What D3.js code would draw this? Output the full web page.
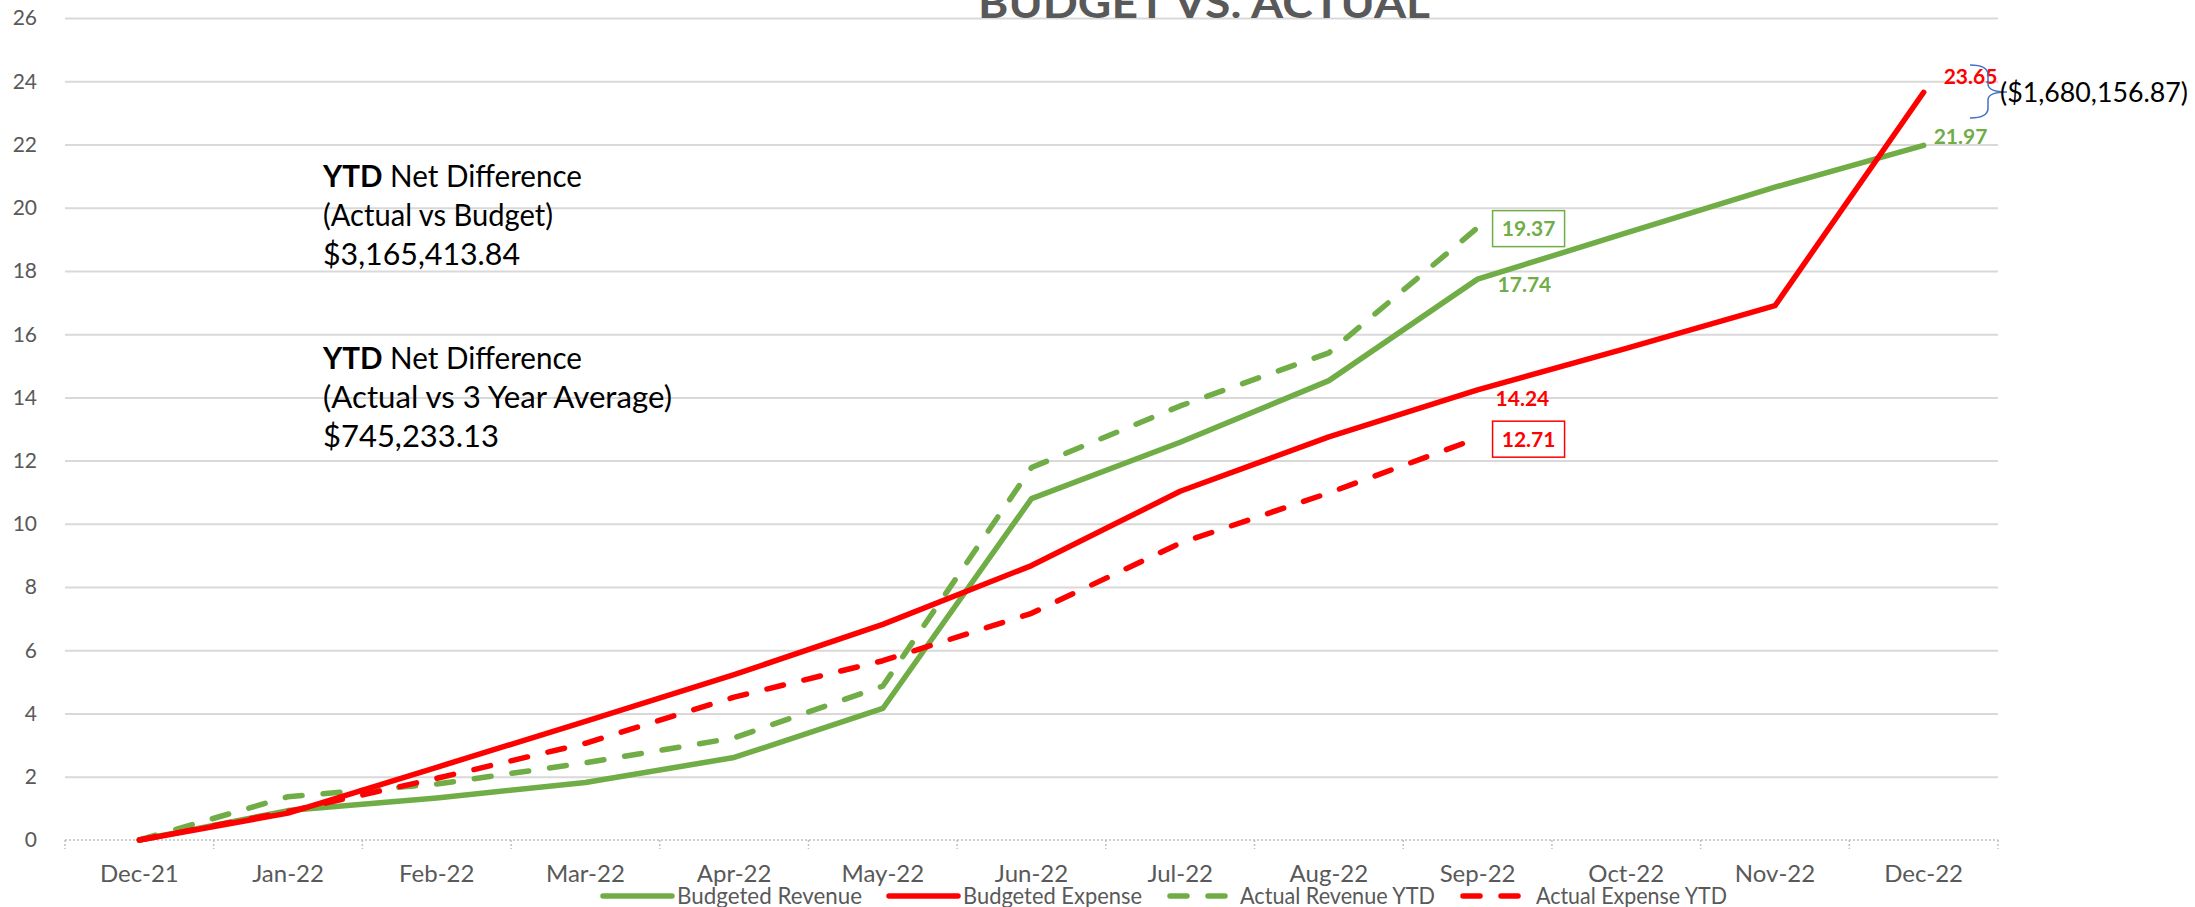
<!DOCTYPE html>
<html>
<head>
<meta charset="utf-8">
<script src="https://cdn.jsdelivr.net/npm/d3@7"></script>
<style>
  body { margin: 0; background: #fff; }
  text { font-family: Lato, "Open Sans", sans-serif; }
</style>
</head>
<body>
<svg id="chart" width="2195" height="907"></svg>
<script>
var months = ["Dec-21","Jan-22","Feb-22","Mar-22","Apr-22","May-22","Jun-22","Jul-22","Aug-22","Sep-22","Oct-22","Nov-22","Dec-22"];
var budgetedRevenue = [0, 0.93, 1.33, 1.82, 2.61, 4.16, 10.8, 12.58, 14.53, 17.74, 19.2, 20.65, 21.97];
var budgetedExpense = [0, 0.85, 2.3, 3.75, 5.23, 6.82, 8.68, 11.03, 12.75, 14.24, 15.55, 16.9, 23.65];
var actualRevenue = [0, 1.37, 1.77, 2.44, 3.23, 4.87, 11.78, 13.73, 15.41, 19.37];
var actualExpense = [0, 0.9, 1.95, 3.06, 4.52, 5.67, 7.17, 9.39, 10.98, 12.71];
var yTicks = [0, 2, 4, 6, 8, 10, 12, 14, 16, 18, 20, 22, 24, 26];

var green = "#70AD47", red = "#FF0000", grey = "#595959";
var svg = d3.select("#chart");

var x = d3.scaleBand().domain(months).range([65, 1998]);
var y = d3.scaleLinear().domain([0, 26]).range([840, 18]);
function cx(i) { return x(months[i]) + x.bandwidth() / 2; }

// gridlines
var grid = svg.append("g").attr("transform", "translate(65,0)")
    .call(d3.axisLeft(y).tickValues(yTicks.slice(1)).tickSize(-(1998 - 65)).tickFormat(""));
grid.select(".domain").remove();
grid.selectAll("line").attr("stroke", "#D9D9D9").attr("stroke-width", 2);

// y labels
svg.append("g").selectAll("text").data(yTicks).join("text")
    .attr("x", 37).attr("y", function(d){ return y(d); }).attr("dy", "0.35em")
    .attr("text-anchor", "end").attr("font-size", 21).attr("fill", grey)
    .text(function(d){ return d; });

// title (cut off at the top)
svg.append("text").attr("x", 1204).attr("y", 18).attr("text-anchor", "middle")
    .attr("font-size", 42).attr("font-weight", "bold").attr("fill", grey)
    .attr("textLength", 452).attr("lengthAdjust", "spacingAndGlyphs")
    .text("BUDGET VS. ACTUAL");

// x axis, dotted
svg.append("line").attr("x1", 65).attr("x2", 1998).attr("y1", y(0)).attr("y2", y(0))
    .attr("stroke", "#BFBFBF").attr("stroke-width", 1.5).attr("stroke-dasharray", "2,2");
var bounds = months.map(function(m){ return x(m); }).concat([1998]);
svg.append("g").selectAll("line").data(bounds).join("line")
    .attr("x1", function(d){ return d; }).attr("x2", function(d){ return d; })
    .attr("y1", y(0)).attr("y2", y(0) + 9)
    .attr("stroke", "#BFBFBF").attr("stroke-width", 1.5).attr("stroke-dasharray", "2,2");

var xAxis = svg.append("g").attr("transform", "translate(0,864)")
    .call(d3.axisBottom(x).tickSize(0).tickPadding(0));
xAxis.select(".domain").remove();
xAxis.selectAll("text").attr("font-size", 24).attr("fill", grey)
    .attr("font-family", "Lato, sans-serif").attr("dy", "0.75em");

// lines
var line = d3.line().x(function(d, i){ return cx(i); }).y(function(d){ return y(d); });
var series = [
  { values: budgetedRevenue, color: green, dash: null },
  { values: actualRevenue, color: green, dash: "17,21" },
  { values: actualExpense, color: red, dash: "17,21" },
  { values: budgetedExpense, color: red, dash: null }
];
svg.append("g").selectAll("path").data(series).join("path")
    .attr("d", function(s){ return line(s.values); })
    .attr("fill", "none").attr("stroke", function(s){ return s.color; })
    .attr("stroke-width", 5.5).attr("stroke-linecap", "round").attr("stroke-linejoin", "round")
    .attr("stroke-dasharray", function(s){ return s.dash; });

// data labels
var sep = 9, dec = 12;
function label(txt, px, py, color, anchor) {
  return svg.append("text").attr("x", px).attr("y", py).attr("dy", "0.35em")
    .attr("text-anchor", anchor || "start").attr("font-size", 21).attr("font-weight", "bold")
    .attr("fill", color).text(txt);
}
label(budgetedExpense[dec].toFixed(2), cx(dec) + 20, y(budgetedExpense[dec]) - 16, red);
label(budgetedRevenue[dec].toFixed(2), cx(dec) + 10, y(budgetedRevenue[dec]) - 9, green);
label(budgetedRevenue[sep].toFixed(2), cx(sep) + 20, y(budgetedRevenue[sep]) + 6, green);
label(budgetedExpense[sep].toFixed(2), cx(sep) + 18, y(budgetedExpense[sep]) + 9, red);

function boxLabel(txt, py, color) {
  var bx = cx(sep) + 15;
  svg.append("rect").attr("x", bx).attr("y", py - 18).attr("width", 72).attr("height", 36)
    .attr("fill", "#fff").attr("stroke", color).attr("stroke-width", 1.5);
  label(txt, bx + 36, py, color, "middle");
}
boxLabel(actualRevenue[sep].toFixed(2), y(actualRevenue[sep]) + 1, green);
boxLabel(actualExpense[sep].toFixed(2), y(actualExpense[sep]) + 1, red);

// brace + difference
svg.append("path")
    .attr("d", "M1970,65 Q1988,65 1988,75 L1988,84 Q1988,92 2007,92 Q1988,92 1988,100 L1988,108 Q1988,118 1970,118")
    .attr("fill", "none").attr("stroke", "#4472C4").attr("stroke-width", 1.5);
svg.append("text").attr("x", 2000).attr("y", 93).attr("dy", "0.35em")
    .attr("font-size", 27).attr("fill", "#000").attr("textLength", 188)
    .attr("lengthAdjust", "spacingAndGlyphs").text("($1,680,156.87)");

// annotation blocks
function block(lines, widths, top) {
  lines.forEach(function(l, i) {
    var t = svg.append("text").attr("x", 323).attr("y", top + i * 39)
        .attr("font-size", 30).attr("fill", "#000")
        .attr("textLength", widths[i]).attr("lengthAdjust", "spacingAndGlyphs");
    if (i === 0) {
      t.append("tspan").attr("font-weight", "bold").text("YTD");
      t.append("tspan").text(" Net Difference");
    } else {
      t.text(l);
    }
  });
}
block(["YTD Net Difference", "(Actual vs Budget)", "$3,165,413.84"], [259, 230, 197], 187);
block(["YTD Net Difference", "(Actual vs 3 Year Average)", "$745,233.13"], [259, 349, 176], 369);

// legend
var legend = [
  { name: "Budgeted Revenue", color: green, dash: null, x1: 603, x2: 672, tx: 677, tw: 185 },
  { name: "Budgeted Expense", color: red, dash: null, x1: 889, x2: 958, tx: 963, tw: 179 },
  { name: "Actual Revenue YTD", color: green, dash: "17,21", x1: 1170, x2: 1232, tx: 1240, tw: 195 },
  { name: "Actual Expense YTD", color: red, dash: "17,21", x1: 1463, x2: 1526, tx: 1536, tw: 191 }
];
var lg = svg.append("g").selectAll("g").data(legend).join("g");
lg.append("line").attr("x1", function(d){ return d.x1; }).attr("x2", function(d){ return d.x2; })
    .attr("y1", 896).attr("y2", 896).attr("stroke", function(d){ return d.color; })
    .attr("stroke-width", 5.5).attr("stroke-linecap", "round")
    .attr("stroke-dasharray", function(d){ return d.dash; });
lg.append("text").attr("x", function(d){ return d.tx; }).attr("y", 896).attr("dy", "0.35em")
    .attr("font-size", 24).attr("fill", grey)
    .attr("textLength", function(d){ return d.tw; }).attr("lengthAdjust", "spacingAndGlyphs")
    .text(function(d){ return d.name; });
</script>
</body>
</html>
